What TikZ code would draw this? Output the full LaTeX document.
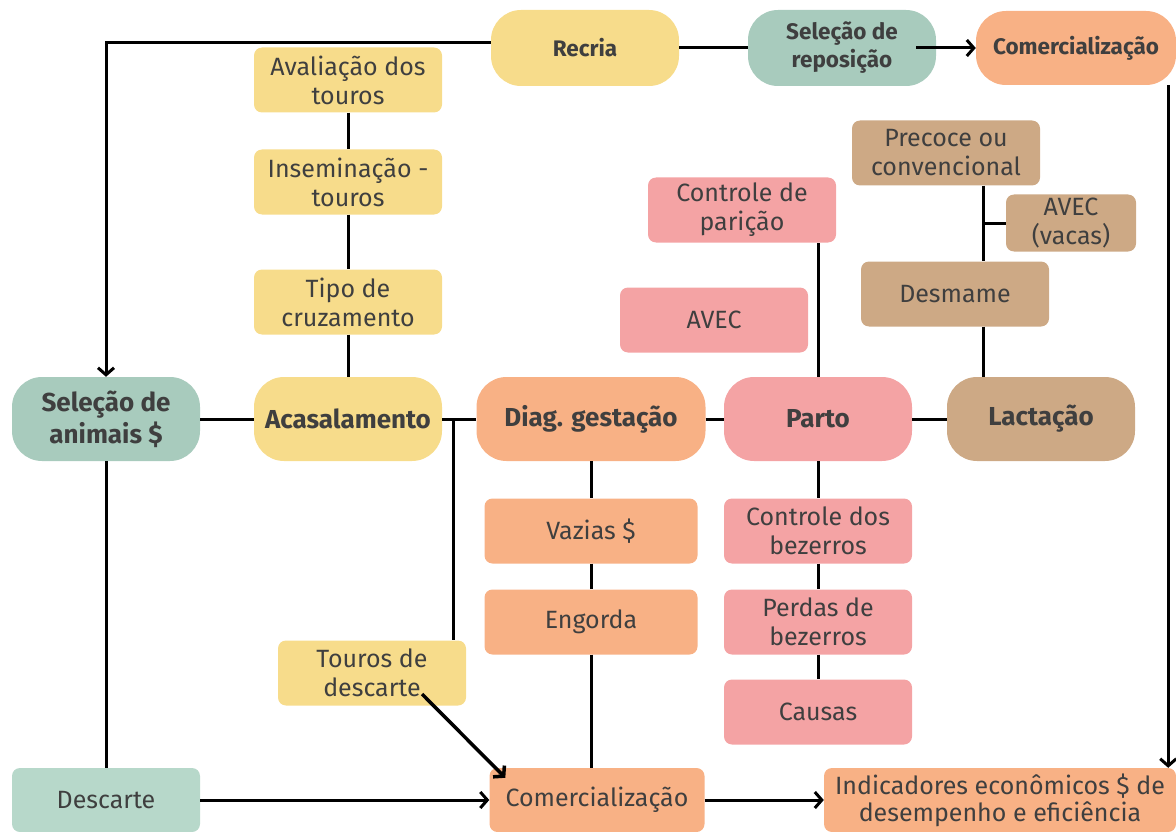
\documentclass[tikz,border=0pt]{standalone}
\usepackage{fontspec}
\setmainfont{Fira Sans}
\usetikzlibrary{arrows.meta}

\definecolor{amarelo}{HTML}{F7DC8B}
\definecolor{verde}{HTML}{A8CBBD}
\definecolor{verdeclaro}{HTML}{B7D8CA}
\definecolor{laranja}{HTML}{F8B185}
\definecolor{rosa}{HTML}{F4A3A4}
\definecolor{marrom}{HTML}{CDA985}
\definecolor{texto}{HTML}{3F3F3F}

\tikzset{
  caixa/.style={rounded corners=8pt, minimum width=188pt, minimum height=65pt,
    align=center, text=texto, inner sep=2pt, font=\fontsize{25}{29}\selectfont},
  etapa/.style={rounded corners=30pt, minimum width=188pt, minimum height=84pt,
    align=center, text=texto, inner sep=2pt, font=\fontsize{26}{32}\selectfont\bfseries},
  topo/.style={etapa, minimum height=76pt, font=\fontsize{22.5}{28}\selectfont\bfseries},
  fio/.style={line width=3pt},
  seta/.style={fio, -{Straight Barb[length=7pt,width=16pt]}},
}

\begin{document}
\begin{tikzpicture}[x=1pt, y=-1pt]
                \useasboundingbox (0,0) rectangle (1176,832);
                % Stages and boxes:
                \node[topo, fill=amarelo] (recria) at (585,48) {Recria};
                \node[topo, fill=verde] (reposicao) at (842,48) {Seleção de\\reposição};
                \node[topo, fill=laranja, minimum width=200pt, minimum height=74pt] (comtopo) at (1076,48) {Comercialização};
                \node[caixa, fill=amarelo] (avaliacao) at (348,80) {Avaliação dos\\touros};
                \node[caixa, fill=amarelo] (inseminacao) at (348,182) {Inseminação -\\touros};
                \node[caixa, fill=amarelo] (cruzamento) at (348,302) {Tipo de\\cruzamento};
                \node[etapa, fill=verde] (selecao) at (106,419) {Seleção de\\animais \$};
                \node[etapa, fill=amarelo] (acasalamento) at (348,419) {Acasalamento};
                \node[etapa, fill=laranja, minimum width=229pt] (diagnostico) at (591,419) {Diag. gestação};
                \node[etapa, fill=rosa] (parto) at (818,419) {Parto};
                \node[etapa, fill=marrom] (lactacao) at (1041,419) {Lactação};
                \node[caixa, fill=rosa] (paricao) at (742,210) {Controle de\\parição};
                \node[caixa, fill=rosa] (avec) at (714,320) {AVEC};
                \node[caixa, fill=marrom] (precoce) at (946,153) {Precoce ou\\convencional};
                \node[caixa, fill=marrom, minimum width=130pt, minimum height=57pt] (avecvacas) at (1071,223) {AVEC\\(vacas)};
                \node[caixa, fill=marrom] (desmame) at (955,294) {Desmame};
                \node[caixa, fill=laranja, minimum width=213pt] (vazias) at (591,531) {Vazias \$};
                \node[caixa, fill=laranja, minimum width=213pt] (engorda) at (591,622) {Engorda};
                \node[caixa, fill=rosa] (bezerros) at (818,531) {Controle dos\\bezerros};
                \node[caixa, fill=rosa] (perdas) at (818,622) {Perdas de\\bezerros};
                \node[caixa, fill=rosa] (causas) at (818,712) {Causas};
                \node[caixa, fill=amarelo] (tourosdesc) at (372,673) {Touros de\\descarte};
                \node[caixa, fill=verdeclaro, minimum height=64pt] (descarte) at (106,800) {Descarte};
                \node[caixa, fill=laranja, minimum width=215pt, minimum height=64pt] (combaixo) at (597,800) {Comercialização};
                \node[caixa, fill=laranja, minimum width=352pt, minimum height=64pt, font=\fontsize{25}{27}\selectfont] (indicadores) at (1000,800) {Indicadores econômicos \$ de\\desempenho e eficiência};
                % Wires:
                \draw[seta] ([yshift=5pt]recria.west) -| (selecao.north);
                \draw[fio] (recria) -- (reposicao);
                \draw[seta] ([xshift=-20pt]reposicao.east) -- (comtopo.west);
                \draw[seta] ([xshift=-8pt]comtopo.south east) -- ([xshift=-8pt]indicadores.north east);
                \draw[fio] (avaliacao) -- (inseminacao) -- (cruzamento) -- (acasalamento);
                \draw[fio] (selecao) -- (acasalamento) -- (diagnostico) -- (parto) -- (lactacao);
                \coordinate (juncao) at (453,419);
                \draw[fio] (juncao) -- (juncao |- tourosdesc.north);
                \draw[fio] (parto) -- (parto |- paricao.south);
                \coordinate (eixo) at (983,0);
                \draw[fio] (eixo |- precoce.south) -- (eixo |- desmame.north);
                \draw[fio] (eixo |- desmame.south) -- (eixo |- lactacao.north);
                \draw[fio] (avecvacas) -- (eixo |- avecvacas);
                \draw[fio] (diagnostico) -- (vazias) -- (engorda);
                \draw[fio] (engorda) -- (engorda |- combaixo.north);
                \draw[fio] (parto) -- (bezerros) -- (perdas) -- (causas);
                \draw[fio] (selecao) -- (descarte);
                \draw[seta] (descarte) -- (combaixo);
                \draw[seta] (combaixo) -- (indicadores);
                \draw[seta, line width=3.5pt] ([xshift=50pt,yshift=-21pt]tourosdesc.center) -- ([xshift=16pt,yshift=-10pt]combaixo.north west);
            \end{tikzpicture}
\end{document}
